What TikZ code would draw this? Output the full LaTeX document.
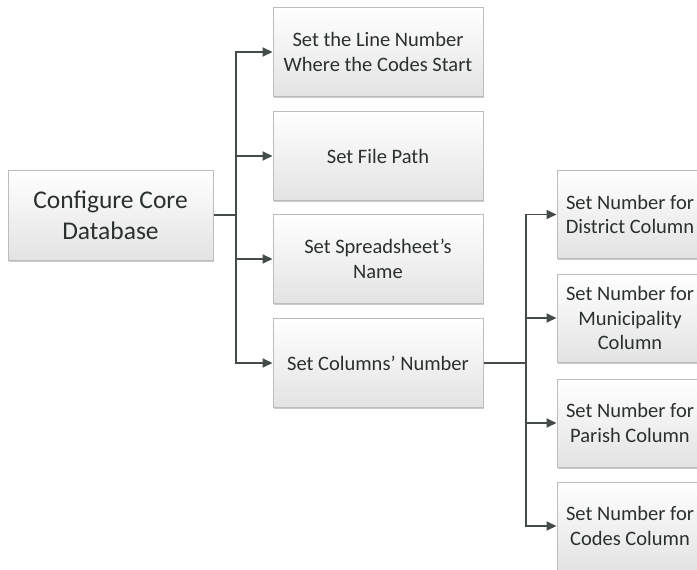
\documentclass[tikz,border=0pt]{standalone}
\usepackage{fontspec}
\setmainfont{Carlito}
\usetikzlibrary{arrows.meta,shadows}
\definecolor{linegray}{HTML}{434B4B}
\definecolor{textgray}{HTML}{2A3030}
\definecolor{boxline}{HTML}{BDBDBD}
\tikzset{
    box/.style={draw=boxline, line width=1pt, top color=white, bottom color=black!11,
        drop shadow={shadow xshift=0.8pt, shadow yshift=-1.6pt, fill=black!35, opacity=0.6},
        text=textgray, align=center, inner sep=2pt},
    wire/.style={draw=linegray, line width=1.8pt},
    arr/.style={wire, -{Triangle[length=10pt,width=9pt]}},
}

\begin{document}
\begin{tikzpicture}[x=1pt,y=-1pt]
    \useasboundingbox (0,0) rectangle (697,570);
    \clip (0,0) rectangle (697,570);
    % Root
    \node[box, minimum width=205pt, minimum height=90pt, font=\fontsize{25.5}{31}\selectfont]
        (root) at (110.5,215) {Configure Core\\Database};
    % Settings
    \begin{scope}[every node/.style={box, minimum width=210pt, minimum height=89pt,
        font=\fontsize{20.5}{24.5}\selectfont}]
        \node (line)   at (378,52)  {Set the Line Number\\Where the Codes Start};
        \node (path)   at (378,156) {Set File Path};
        \node (sheet)  at (378,259) {Set Spreadsheet’s\\Name};
        \node (cols)   at (378,363) {Set Columns’ Number};
    \end{scope}
    % Columns
    \begin{scope}[every node/.style={box, minimum width=146pt, minimum height=88pt,
        font=\fontsize{20.5}{24.5}\selectfont}]
        \node (district) at (630,214.5) {Set Number for\\District Column};
        \node (munic)    at (630,318)   {Set Number for\\Municipality\\Column};
        \node (parish)   at (630,423)   {Set Number for\\Parish Column};
        \node (codes)    at (630,526)   {Set Number for\\Codes Column};
    \end{scope}
    % Connectors
    \coordinate (fork) at (236,215);
    \coordinate (colfork) at (526,363);
    \draw[wire] (root.east) -- (fork);
    \foreach \n in {line,path,sheet,cols} {
        \draw[arr] (fork) |- (\n.west);
    }
    \draw[wire] (cols.east) -- (colfork);
    \foreach \n in {district,munic,parish,codes} {
        \draw[arr] (colfork) |- (\n.west);
    }
\end{tikzpicture}
\end{document}
